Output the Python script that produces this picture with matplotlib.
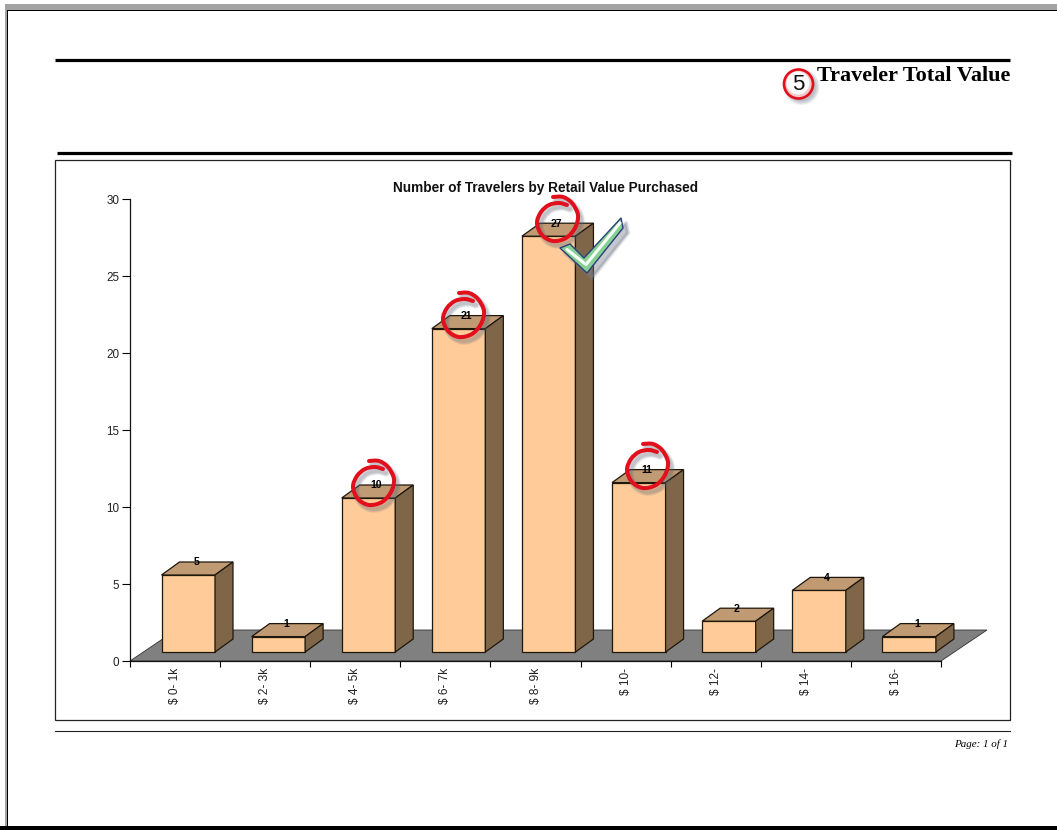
import numpy as np
import matplotlib
matplotlib.use("Agg")
import matplotlib.pyplot as plt
from matplotlib.patches import Polygon, Circle, PathPatch
from matplotlib.path import Path

categories = ["$ 0- 1k", "$ 2- 3k", "$ 4- 5k", "$ 6- 7k", "$ 8- 9k", "$ 10-", "$ 12-", "$ 14-", "$ 16-"]
travelers = [5, 1, 10, 21, 27, 11, 2, 4, 1]
y_ticks = [0, 5, 10, 15, 20, 25, 30]
chart_title = "Number of Travelers by Retail Value Purchased"
page_title = "Traveler Total Value"
page_footer = "Page: 1 of 1"

W, H = 1057, 830
SANS = "Liberation Sans"
SERIF = "Liberation Serif"
FRONT, TOP, SIDE = "#ffcc99", "#bf9a73", "#806648"

fig = plt.figure(figsize=(W / 100, H / 100), dpi=100, facecolor="white")

# Page furniture, laid out in pixel units
page = fig.add_axes([0, 0, 1, 1], zorder=0)
page.set_xlim(0, W)
page.set_ylim(H, 0)
page.axis("off")
page.fill_between([5, W], 4, 10, color="#a3a3a3", lw=0)
page.fill_between([5, 7], 4, 826, color="#a3a3a3", lw=0)
page.fill_between([7, W], 10, 11, color="black", lw=0)
page.fill_between([7, 8], 10, 826, color="black", lw=0)
page.fill_between([0, W], 826, 830, color="black", lw=0)
page.plot([55, 1010], [60, 60], color="black", lw=2.3, solid_capstyle="butt")
page.plot([57, 1012], [153.5, 153.5], color="black", lw=2.3, solid_capstyle="butt")
page.plot([55, 1010], [731, 731], color="#222222", lw=0.8)
page.add_patch(plt.Rectangle((55, 160), 955, 560, fill=False, ec="#222222", lw=0.9))
page.text(1010, 76, page_title, family=SERIF, weight="bold", size=16, ha="right", va="center")
page.text(1008, 744, page_footer, family=SERIF, style="italic", size=7.9, ha="right", va="center")

# Chart axes: one unit on x is one category, the y scale is the traveler count
ax = fig.add_axes([130 / W, 1 - 661 / H, 811 / W, 462 / H], zorder=1)
ax.patch.set_alpha(0)
ax.set_xlim(0, 9)
ax.set_ylim(0, 30)
for side in ("top", "right"):
    ax.spines[side].set_visible(False)
for side in ("left", "bottom"):
    ax.spines[side].set_linewidth(0.9)
    ax.spines[side].set_color("#111111")

px = (9 / 811, 30 / 462)  # data units per pixel
floor_dx, floor_dy = 46 * px[0], 31 * px[1]
depth_dx, depth_dy = 18 * px[0], 13 * px[1]
lift = 9 * px[1]
bar_w = 53.5 * px[0]
bar_off = 31.5 * px[0]

ax.add_patch(Polygon([(0, 0), (9, 0), (9 + floor_dx, floor_dy), (floor_dx, floor_dy)],
                     closed=True, fc="#808080", ec="#333333", lw=0.6, clip_on=False, zorder=1))

edge = dict(ec="#1f170c", lw=0.9, clip_on=False, zorder=3, joinstyle="miter")
for i, v in enumerate(travelers):
    x0 = i + bar_off
    x1 = x0 + bar_w
    y1 = lift + v
    ax.bar(x0, v, width=bar_w, bottom=lift, align="edge", color=FRONT, edgecolor="#1f170c", linewidth=0.9, zorder=3)
    ax.add_patch(Polygon([(x0, y1), (x1, y1), (x1 + depth_dx, y1 + depth_dy), (x0 + depth_dx, y1 + depth_dy)],
                         closed=True, fc=TOP, **edge))
    ax.add_patch(Polygon([(x1, lift), (x1 + depth_dx, lift + depth_dy), (x1 + depth_dx, y1 + depth_dy), (x1, y1)],
                         closed=True, fc=SIDE, **edge))
    ax.text((x0 + x1) / 2 + depth_dx / 2 - 1 * px[0], y1 + depth_dy - 0.02, str(v), family=SANS, weight="bold",
            size=7.6, ha="center", va="center", color="black", zorder=5)

ax.set_yticks(y_ticks)
ax.set_yticklabels([str(t) for t in y_ticks], family=SANS, size=8.4, color="#222222")
ax.tick_params(axis="y", length=5.8, width=0.8, pad=2)
ax.set_xticks(np.arange(10))
ax.set_xticklabels([])
ax.tick_params(axis="x", which="major", length=4.5, width=0.8)
ax.set_xticks(np.arange(9) + 0.50, minor=True)
ax.set_xticklabels(categories, minor=True, rotation=90, family=SANS, size=8.6, color="#222222", ha="center", va="top")
ax.tick_params(axis="x", which="minor", length=0, pad=5)
ax.text((545.5 - 130) * px[0], 30 + 12 * px[1] - 0.5 * px[1], chart_title, family=SANS, weight="bold", size=9.8,
        ha="center", va="center", color="#111111")

# Hand-marked callouts drawn over the chart
mark = fig.add_axes([0, 0, 1, 1], zorder=2)
mark.set_xlim(0, W)
mark.set_ylim(H, 0)
mark.axis("off")
mark.patch.set_alpha(0)

# Pen stroke of one circled value, relative to its centre
stroke = np.array([(-5, -23), (5, -23), (14, -17), (20, -5), (17, 8), (8, 18), (-5, 21),
                   (-16, 15), (-21, 3), (-17, -8), (-9, -15), (1, -17), (9, -15)], dtype=float)


def smooth_path(pts):
    verts = [pts[0]]
    codes = [Path.MOVETO]
    for a, b, c, d in zip(np.vstack([pts[:1], pts[:-2]]), pts[:-1], pts[1:], np.vstack([pts[2:], pts[-1:]])):
        verts += [b + (c - a) / 6, c - (d - b) / 6, c]
        codes += [Path.CURVE4] * 3
    return Path(verts, codes)


def ring(cx, cy):
    pts = stroke + (cx, cy)
    for k in range(5):
        mark.add_patch(PathPatch(smooth_path(pts + (3, 4)), fc="none", ec="#606878", lw=5.5 - 0.8 * k,
                                 alpha=0.09, capstyle="round", zorder=3))
    mark.add_patch(PathPatch(smooth_path(pts), fc="none", ec="#e2101c", lw=2.9, capstyle="round", zorder=4))


for centre in [(374, 484), (464, 316), (558, 220), (648, 467)]:
    ring(*centre)

# Check mark beside the tallest bar
tick_outline = np.array([(560, 248), (570, 244), (584, 258), (621, 218), (623, 228), (587, 273)], dtype=float)
for k in range(4):
    mark.add_patch(Polygon(tick_outline + (5, 5), closed=True, fc="#7a8290", ec="#7a8290", lw=3.5 - k,
                           alpha=0.13, joinstyle="round", zorder=5))
mark.add_patch(Polygon(tick_outline, closed=True, fc="#86d093", ec="#2b3f78", lw=1.0, joinstyle="round", zorder=6))
mark.plot([567, 586, 620], [249.5, 264.5, 223], color="#f8fff8", lw=2.2, solid_capstyle="round",
          solid_joinstyle="round", zorder=7)

# Numbered badge next to the page heading
for k in range(5):
    mark.add_patch(Circle((801.5, 87), 18 - k, fc="#606878", ec="none", alpha=0.1, zorder=3))
mark.add_patch(Circle((798.5, 84), 14.5, fc="#f3c9c9", ec="#e2101c", lw=1.9, zorder=4))
mark.add_patch(Circle((798, 83), 11.5, fc="#fafafa", ec="none", zorder=5))
mark.text(798.5, 84.5, "5", family=SANS, size=16, ha="center", va="center", color="#111111", zorder=6)

fig.savefig("out.png", dpi=100, facecolor="white")
